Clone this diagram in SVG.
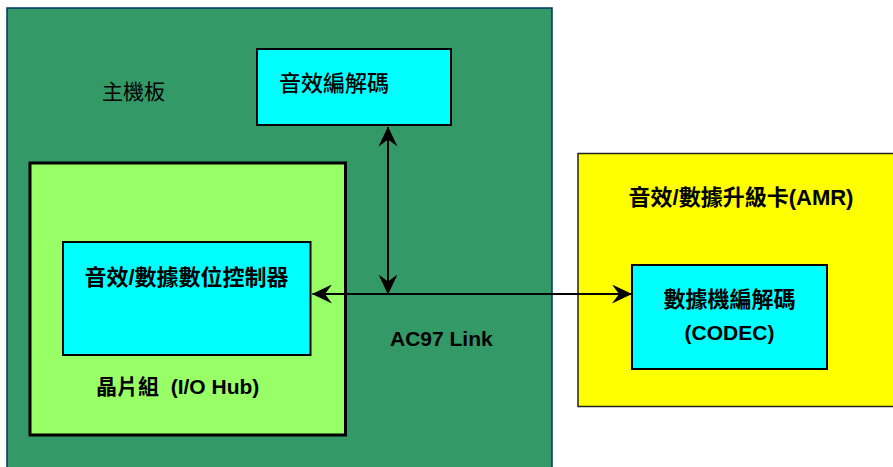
<svg xmlns="http://www.w3.org/2000/svg" width="893" height="467" viewBox="0 0 893 467">
<style>
.t{font-family:"Liberation Sans","Noto Sans CJK TC",sans-serif;fill:#000}
.b{font-weight:bold}
.cy{fill:#00ffff;stroke:#000;stroke-width:2}
.ln{stroke:#000;stroke-width:2;fill:none}
</style>
<defs>
<marker id="ah" viewBox="0 0 20 19" refX="19.5" refY="9.5" markerWidth="20" markerHeight="19" markerUnits="userSpaceOnUse" orient="auto-start-reverse">
<path d="M0,0 L20,9.5 L0,19 L7,9.5 z" fill="#000"/>
</marker>
</defs>
<rect width="893" height="467" fill="#fff"/>
<g id="mainboard">
<rect x="7" y="8" width="545" height="470" fill="#339966" stroke="#003366" stroke-width="1.5"/>
<text class="t" x="102" y="99" font-size="21">主機板</text>
</g>
<g id="audio-codec">
<rect class="cy" x="257" y="49" width="194" height="76"/>
<text class="t" x="279" y="91" font-size="22" font-weight="500">音效編解碼</text>
</g>
<g id="chipset">
<rect x="30" y="163" width="315.5" height="272" fill="#99ff66" stroke="#000" stroke-width="3"/>
<text class="t b" x="96" y="394" font-size="21" xml:space="preserve">晶片組  (I/O Hub)</text>
</g>
<g id="controller">
<rect x="63" y="242" width="247.5" height="113" fill="#00ffff" stroke="#000" stroke-width="2"/>
<text class="t b" x="186.5" y="285" font-size="22" text-anchor="middle">音效/數據數位控制器</text>
</g>
<g id="amr">
<rect x="578" y="153.5" width="330" height="253" fill="#ffff00" stroke="#222" stroke-width="1.5"/>
<text class="t b" x="741" y="205" font-size="22" text-anchor="middle">音效/數據升級卡(AMR)</text>
</g>
<g id="modem-codec">
<rect class="cy" x="632" y="265" width="195" height="104"/>
<text class="t b" x="729.5" y="307" font-size="22" text-anchor="middle">數據機編解碼</text>
<text class="t b" x="729.5" y="340" font-size="21" text-anchor="middle">(CODEC)</text>
</g>
<g id="connectors">
<line class="ln" x1="388" y1="294" x2="388" y2="127" marker-end="url(#ah)" marker-start="url(#ah)"/>
<line class="ln" x1="312.5" y1="294" x2="631.5" y2="294" marker-end="url(#ah)" marker-start="url(#ah)"/>
<text class="t b" x="390" y="346" font-size="21">AC97 Link</text>
</g>
</svg>
